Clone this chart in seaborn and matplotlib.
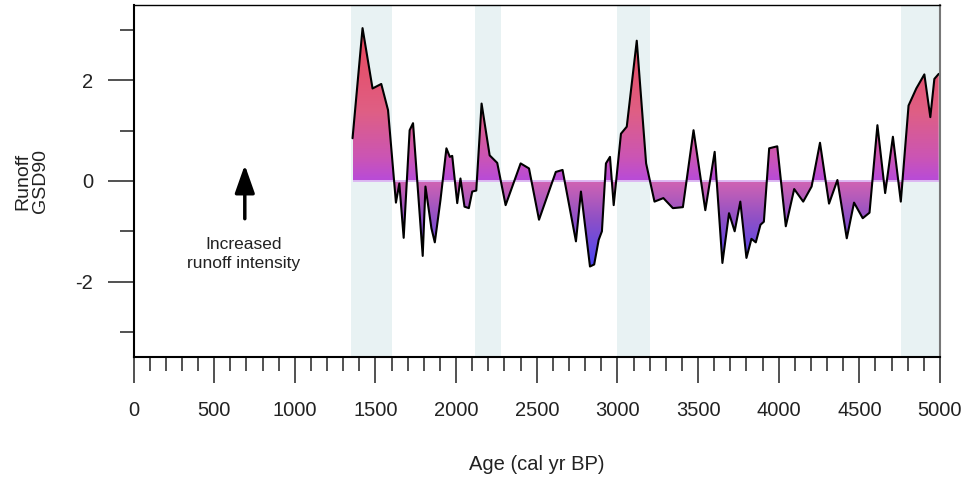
import numpy as np
import pandas as pd
import matplotlib
matplotlib.use("Agg")
import matplotlib.pyplot as plt
import seaborn as sns
from matplotlib.ticker import MultipleLocator, FixedLocator
from matplotlib.colors import LinearSegmentedColormap
from matplotlib.path import Path

# ---------------- data ----------------
age = [1358, 1420, 1482, 1536, 1578, 1627, 1648, 1675, 1712, 1733,
       1793, 1810, 1847, 1868, 1903, 1940, 1961, 1976, 2007, 2027,
       2052, 2079, 2100, 2125, 2158, 2208, 2255, 2307, 2400, 2452,
       2514, 2618, 2660, 2743, 2774, 2830, 2856, 2884, 2904, 2929,
       2954, 2977, 3022, 3058, 3120, 3178, 3230, 3285, 3344, 3406,
       3472, 3545, 3603, 3651, 3692, 3727, 3762, 3800, 3831, 3858,
       3887, 3908, 3941, 3991, 4044, 4096, 4152, 4204, 4256, 4312,
       4364, 4422, 4467, 4521, 4563, 4612, 4660, 4708, 4757, 4805,
       4853, 4903, 4940, 4965, 4992]
runoff = [0.85, 3.04, 1.84, 1.93, 1.41, -0.43, -0.05, -1.13, 1.01, 1.15,
          -1.49, -0.11, -0.94, -1.22, -0.38, 0.65, 0.48, 0.50, -0.44, 0.05,
          -0.51, -0.54, -0.21, -0.19, 1.54, 0.51, 0.36, -0.48, 0.35, 0.25,
          -0.77, 0.18, 0.22, -1.20, -0.21, -1.70, -1.66, -1.17, -1.00, 0.35,
          0.48, -0.48, 0.94, 1.08, 2.79, 0.35, -0.41, -0.34, -0.54, -0.52,
          1.01, -0.58, 0.58, -1.63, -0.64, -1.00, -0.41, -1.53, -1.15, -1.22,
          -0.87, -0.81, 0.65, 0.69, -0.90, -0.16, -0.41, -0.11, 0.76, -0.45,
          0.02, -1.14, -0.43, -0.74, -0.63, 1.11, -0.24, 0.88, -0.41, 1.50,
          1.84, 2.12, 1.27, 2.03, 2.13]
shaded_start = [1350, 2120, 3000, 4760]
shaded_end = [1600, 2280, 3200, 5000]
x_ticks = [0, 500, 1000, 1500, 2000, 2500, 3000, 3500, 4000, 4500, 5000]
y_ticks = [-2, 0, 2]
y_minor = [-3, -1, 1, 3]
arrow_x = 690
arrow_y = [-0.75, 0.32]
note_text = "Increased\nrunoff intensity"

df = pd.DataFrame({"age": age, "runoff": runoff})

# ---------------- style ----------------
sns.set_style("ticks")
plt.rcParams["font.family"] = ["Liberation Sans", "DejaVu Sans"]

fig = plt.figure(figsize=(9.74, 4.79), dpi=100)
ax = fig.add_axes([133.5 / 974, 1 - 357 / 479, (940 - 133.5) / 974, (357 - 5) / 479])

# shaded intervals
for s, e in zip(shaded_start, shaded_end):
    ax.axvspan(s, e, color="#e8f2f3", lw=0, zorder=0)

x = df["age"].to_numpy(float)
y = df["runoff"].to_numpy(float)

# gradient fill clipped to the area between curve and zero
poly = ax.fill_between(x, y, 0, facecolor="none", edgecolor="none", zorder=1)
clip = Path.make_compound_path(*poly.get_paths())

ymin, ymax = y.min(), y.max()
nrows = 800
yy = np.linspace(ymin, ymax, nrows)
pos_cmap = LinearSegmentedColormap.from_list(
    "pos", [(0.0, "#b84bd8"), (0.15, "#cb55b4"), (0.45, "#df5f84"), (1.0, "#ea465a")])
neg_cmap = LinearSegmentedColormap.from_list(
    "neg", [(0.0, "#d264b2"), (0.45, "#8f50c6"), (1.0, "#4b45f2")])
img = np.zeros((nrows, 1, 4))
for i, v in enumerate(yy):
    if v >= 0:
        img[i, 0] = pos_cmap(v / ymax)
    else:
        img[i, 0] = neg_cmap(v / ymin)
im = ax.imshow(img, extent=[x.min(), x.max(), ymin, ymax], origin="lower",
               aspect="auto", interpolation="bilinear", zorder=2)
im.set_clip_path(clip, transform=ax.transData)

# zero line
ax.hlines(0, x.min(), x.max(), color="#dcb8f2", lw=1.4, zorder=3)

# curve
sns.lineplot(data=df, x="age", y="runoff", ax=ax, color="black", lw=1.5,
             zorder=4, sort=False)

# arrow + note
ax.annotate("", xy=(arrow_x, arrow_y[1]), xytext=(arrow_x, arrow_y[0]),
            arrowprops=dict(arrowstyle="-|>,head_width=0.3,head_length=0.85",
                            lw=2.5, color="black", mutation_scale=20,
                            shrinkA=0, shrinkB=0))
ax.text(arrow_x - 8, -1.45, note_text, ha="center", va="center",
        fontsize=12.5, color="#222222", linespacing=1.3)

# axes
ax.set_xlim(0, 5000)
ax.set_ylim(-3.5, 3.5)
ax.set_xticks(x_ticks)
ax.set_xticklabels([str(t) for t in x_ticks])
ax.xaxis.set_minor_locator(MultipleLocator(100))
ax.set_yticks(y_ticks)
ax.set_yticklabels([str(t) for t in y_ticks])
ax.yaxis.set_minor_locator(FixedLocator(y_minor))
ax.tick_params(axis="both", which="major", length=19, width=1.2,
               color="#333333", labelsize=14.5, labelcolor="#222222")
ax.tick_params(axis="both", which="minor", length=10, width=1.2, color="#333333")
ax.tick_params(axis="x", which="major", pad=13)
ax.tick_params(axis="y", which="major", pad=10)

ax.set_xlabel("Age (cal yr BP)", fontsize=14.5, color="#222222", labelpad=25)
ax.set_ylabel("Runoff\nGSD90", fontsize=14, color="#222222", labelpad=19,
              linespacing=1.05)

for side in ["left", "bottom", "top"]:
    ax.spines[side].set_color("black")
    ax.spines[side].set_linewidth(1.5)
ax.spines["top"].set_linewidth(1.0)
ax.spines["right"].set_color("#777777")
ax.spines["right"].set_linewidth(1.5)
for sp in ax.spines.values():
    sp.set_visible(True)
    sp.set_zorder(5)

fig.savefig("out.png", dpi=100)
